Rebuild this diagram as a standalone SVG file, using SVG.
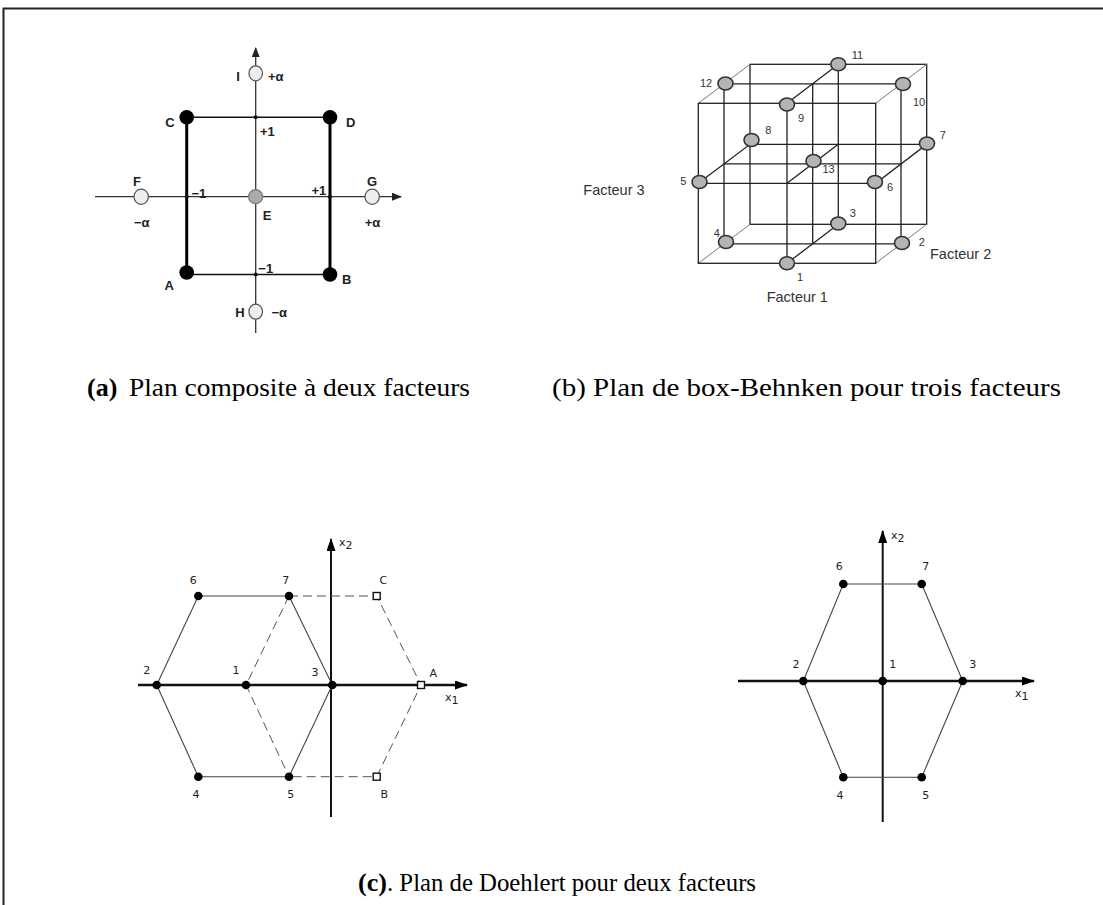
<svg xmlns="http://www.w3.org/2000/svg" width="1103" height="905" viewBox="0 0 1103 905">
<defs>
<style>
.lblA{font-family:"Liberation Sans",Arial,sans-serif;font-weight:bold;font-size:13px;fill:#222}
.lblB{font-family:"Liberation Sans",Arial,sans-serif;font-size:11px;fill:#333}
.fac{font-family:"Liberation Sans",Arial,sans-serif;font-size:14.5px;fill:#333}
.lblC{font-family:"DejaVu Sans","Liberation Sans",sans-serif;font-size:11px;fill:#222}
.cap{font-family:"Liberation Serif","Times New Roman",serif;font-size:26px;fill:#000}
.axA{stroke:#333;stroke-width:1.3;fill:none}
.thinA{stroke:#111;stroke-width:1.5;fill:none}
.thickA{stroke:#000;stroke-width:3;fill:none}
.ptB{fill:#b4b4b4;stroke:#333;stroke-width:1.6}
.edge{stroke:#222;stroke-width:1.3;fill:none}
.depth{stroke:#777;stroke-width:1;fill:none}
.axC{stroke:#111;fill:none}
.sol{stroke:#444;stroke-width:1.1;fill:none}
.dash{stroke:#555;stroke-width:1;stroke-dasharray:9 5;fill:none}
.dot{fill:#000}
.sq{fill:#fff;stroke:#111;stroke-width:1.4}
</style>
<marker id="arrA" markerWidth="10" markerHeight="8" refX="9" refY="4" orient="auto" markerUnits="userSpaceOnUse"><path d="M0,0 L10,4 L0,8 Z" fill="#222"/></marker>
<marker id="arrC" markerWidth="13" markerHeight="9" refX="12" refY="4.5" orient="auto" markerUnits="userSpaceOnUse"><path d="M0,0 L13,4.5 L0,9 Z" fill="#000"/></marker>
</defs>
<rect width="1103" height="905" fill="#fff"/>
<g id="frame">
<path d="M3.5,905 V8.5 H1103" stroke="#222" stroke-width="2" fill="none"/>
</g>

<!-- Panel (a) -->
<g id="connectors-a">
<path class="axA" d="M95,196.7 H401" marker-end="url(#arrA)"/>
<path class="axA" d="M255.7,333 V48" marker-end="url(#arrA)"/>
<path class="thinA" d="M186.7,117.3 H330"/>
<path class="thinA" d="M186.7,274.5 H330"/>
<path class="thickA" d="M186.7,117.3 V274"/>
<path class="thickA" d="M330,117.3 V274.5"/>
</g>
<g id="a-ticks">
<circle cx="255.7" cy="117.3" r="2" fill="#111"/>
<circle cx="186.7" cy="196.7" r="2" fill="#111"/>
<circle cx="330" cy="196.7" r="2" fill="#111"/>
<circle cx="255.7" cy="274.5" r="2" fill="#111"/>
</g>
<g id="node-a-C"><circle cx="186.7" cy="117.3" r="7.3" fill="#000"/><text class="lblA" x="170" y="126.5" text-anchor="middle">C</text></g>
<g id="node-a-D"><circle cx="330" cy="117.3" r="7.3" fill="#000"/><text class="lblA" x="350.7" y="126.5" text-anchor="middle">D</text></g>
<g id="node-a-A"><circle cx="186.7" cy="272.5" r="7.3" fill="#000"/><text class="lblA" x="169.3" y="289.5" text-anchor="middle">A</text></g>
<g id="node-a-B"><circle cx="330" cy="274.5" r="7.3" fill="#000"/><text class="lblA" x="346.7" y="284" text-anchor="middle">B</text></g>
<g id="node-a-I"><ellipse cx="255.7" cy="73.3" rx="6.8" ry="7.5" fill="#eee" stroke="#555" stroke-width="1.2"/><text class="lblA" x="238" y="81" text-anchor="middle">I</text><text class="lblA" x="268" y="81">+α</text></g>
<g id="node-a-H"><ellipse cx="255.7" cy="311.7" rx="6.8" ry="7.5" fill="#eee" stroke="#555" stroke-width="1.2"/><text class="lblA" x="240" y="317" text-anchor="middle">H</text><text class="lblA" x="271.5" y="317">−α</text></g>
<g id="node-a-F"><ellipse cx="141.2" cy="196.7" rx="7.2" ry="7.6" fill="#eee" stroke="#555" stroke-width="1.2"/><text class="lblA" x="137" y="186" text-anchor="middle">F</text><text class="lblA" x="141.7" y="227" text-anchor="middle">−α</text></g>
<g id="node-a-G"><ellipse cx="372.2" cy="196.7" rx="7.2" ry="7.6" fill="#eee" stroke="#555" stroke-width="1.2"/><text class="lblA" x="372" y="186" text-anchor="middle">G</text><text class="lblA" x="372.5" y="227" text-anchor="middle">+α</text></g>
<g id="node-a-E"><circle cx="255.6" cy="196.7" r="7" fill="#aaa" stroke="#777" stroke-width="1.2"/><text class="lblA" x="267" y="219.5" text-anchor="middle">E</text></g>
<g id="a-ticklabels">
<text class="lblA" x="260" y="136" font-weight="normal">+1</text>
<text class="lblA" x="191.5" y="198">−1</text>
<text class="lblA" x="311.5" y="194.5" font-weight="normal">+1</text>
<text class="lblA" x="258.3" y="273">−1</text>
</g>

<!-- Panel (b) -->
<g id="connectors-b">
<rect class="edge" x="750" y="64.3" width="176.7" height="160"/>
<path class="depth" d="M698.3,103.3 L750,64.3 M875.7,103.3 L926.7,64.3 M875.7,263.3 L926.7,224.3 M698.3,263.3 L750,224.3"/>
<path class="edge" d="M724,83.8 H901 V243.8 H724 Z"/>
<path class="edge" d="M787,103.3 L838.3,64.3 V224.3 L787,263.3 Z"/>
<path class="edge" d="M698.3,183.3 L750,144.3 H926.7 L875.7,183.3 Z"/>
<path class="edge" d="M724,163.8 H901 M787,183.3 L838.3,144.3 M812.7,83.8 V243.8"/>
<rect class="edge" x="698.3" y="103.3" width="177.4" height="160"/>
</g>
<g id="node-b-1"><ellipse class="ptB" cx="787" cy="263.3" rx="7.5" ry="6.5"/><text class="lblB" x="800" y="281" text-anchor="middle">1</text></g>
<g id="node-b-2"><ellipse class="ptB" cx="902" cy="243" rx="7.5" ry="6.5"/><text class="lblB" x="921.7" y="246" text-anchor="middle">2</text></g>
<g id="node-b-3"><ellipse class="ptB" cx="838.3" cy="223.5" rx="7.5" ry="6.5"/><text class="lblB" x="852.7" y="217" text-anchor="middle">3</text></g>
<g id="node-b-4"><ellipse class="ptB" cx="726" cy="242" rx="7.5" ry="6.5"/><text class="lblB" x="716.7" y="237" text-anchor="middle">4</text></g>
<g id="node-b-5"><ellipse class="ptB" cx="699.5" cy="182" rx="7.5" ry="6.5"/><text class="lblB" x="683.3" y="185" text-anchor="middle">5</text></g>
<g id="node-b-6"><ellipse class="ptB" cx="875" cy="182" rx="7.5" ry="6.5"/><text class="lblB" x="890" y="191" text-anchor="middle">6</text></g>
<g id="node-b-7"><ellipse class="ptB" cx="927" cy="143.5" rx="7.5" ry="6.5"/><text class="lblB" x="942.7" y="139" text-anchor="middle">7</text></g>
<g id="node-b-8"><ellipse class="ptB" cx="751.5" cy="140" rx="7.5" ry="6.5"/><text class="lblB" x="768.3" y="133.5" text-anchor="middle">8</text></g>
<g id="node-b-9"><ellipse class="ptB" cx="787" cy="104.5" rx="7.5" ry="6.5"/><text class="lblB" x="801" y="122" text-anchor="middle">9</text></g>
<g id="node-b-10"><ellipse class="ptB" cx="903" cy="84" rx="7.5" ry="6.5"/><text class="lblB" x="919" y="106" text-anchor="middle">10</text></g>
<g id="node-b-11"><ellipse class="ptB" cx="838.3" cy="64.3" rx="7.5" ry="6.5"/><text class="lblB" x="857.5" y="59" text-anchor="middle">11</text></g>
<g id="node-b-12"><ellipse class="ptB" cx="725.5" cy="83.5" rx="7.5" ry="6.5"/><text class="lblB" x="706" y="87" text-anchor="middle">12</text></g>
<g id="node-b-13"><ellipse class="ptB" cx="813.5" cy="161" rx="7.5" ry="6.5"/><text class="lblB" x="828.5" y="172.5" text-anchor="middle">13</text></g>
<g id="b-factors">
<text class="fac" x="583.3" y="195">Facteur 3</text>
<text class="fac" x="930" y="259">Facteur 2</text>
<text class="fac" x="766.7" y="301.5">Facteur 1</text>
</g>

<!-- Captions top -->
<g id="caption-a">
<text class="cap" x="87" y="396" font-weight="bold">(a)</text>
<text class="cap" x="129" y="396" textLength="341" lengthAdjust="spacingAndGlyphs">Plan composite à deux facteurs</text>
</g>
<g id="caption-b">
<text class="cap" x="552" y="396" textLength="509" lengthAdjust="spacingAndGlyphs">(b) Plan de box-Behnken pour trois facteurs</text>
</g>

<!-- Panel (c) left -->
<g id="connectors-c-left">
<path class="axC" stroke-width="2.5" d="M138,685 H467" marker-end="url(#arrC)"/>
<path class="axC" stroke-width="2" d="M331,817 V539" marker-end="url(#arrC)"/>
<path class="sol" d="M198.3,596 H289 M198.3,596 L156.7,685 L198.3,776.7 H289 M289,596 L332.3,685 L289,776.7"/>
<path class="dash" d="M289,596 H376.7 L421,685 L376.7,776.7 H289 M289,596 L246,685 L289,776.7"/>
</g>
<g id="node-cl-6"><circle class="dot" cx="198.3" cy="596" r="4.3"/><text class="lblC" x="193.3" y="584" text-anchor="middle">6</text></g>
<g id="node-cl-7"><circle class="dot" cx="289" cy="596" r="4.3"/><text class="lblC" x="285.7" y="584" text-anchor="middle">7</text></g>
<g id="node-cl-C"><rect class="sq" x="373.2" y="592.5" width="7" height="7"/><text class="lblC" x="383.3" y="584" text-anchor="middle">C</text></g>
<g id="node-cl-2"><circle class="dot" cx="156.7" cy="685" r="4.3"/><text class="lblC" x="146.7" y="674" text-anchor="middle">2</text></g>
<g id="node-cl-1"><circle class="dot" cx="246" cy="685" r="4.3"/><text class="lblC" x="236" y="674" text-anchor="middle">1</text></g>
<g id="node-cl-3"><circle class="dot" cx="332.3" cy="685" r="4.3"/><text class="lblC" x="315" y="675.5" text-anchor="middle">3</text></g>
<g id="node-cl-A"><rect class="sq" x="417.5" y="681.5" width="7" height="7"/><text class="lblC" x="433.3" y="677" text-anchor="middle">A</text></g>
<g id="node-cl-4"><circle class="dot" cx="198.3" cy="776.7" r="4.3"/><text class="lblC" x="196" y="797.5" text-anchor="middle">4</text></g>
<g id="node-cl-5"><circle class="dot" cx="289" cy="776.7" r="4.3"/><text class="lblC" x="290.7" y="797.5" text-anchor="middle">5</text></g>
<g id="node-cl-B"><rect class="sq" x="373.2" y="773.2" width="7" height="7"/><text class="lblC" x="384.3" y="797.5" text-anchor="middle">B</text></g>
<g id="cl-axis-labels">
<text class="lblC" x="445" y="701">x<tspan dy="3">1</tspan></text>
<text class="lblC" x="339" y="546">x<tspan dy="3">2</tspan></text>
</g>

<!-- Panel (c) right -->
<g id="connectors-c-right">
<path class="axC" stroke-width="2.5" d="M738,681 H1034" marker-end="url(#arrC)"/>
<path class="axC" stroke-width="2" d="M882.7,822 V531" marker-end="url(#arrC)"/>
<path class="sol" d="M843.3,584 H921.7 L962.7,681 L921.7,777.3 H843.3 L803.3,681 Z"/>
</g>
<g id="node-cr-6"><circle class="dot" cx="843.3" cy="584" r="4.3"/><text class="lblC" x="839.3" y="570" text-anchor="middle">6</text></g>
<g id="node-cr-7"><circle class="dot" cx="921.7" cy="584" r="4.3"/><text class="lblC" x="925.7" y="570" text-anchor="middle">7</text></g>
<g id="node-cr-2"><circle class="dot" cx="803.3" cy="681" r="4.3"/><text class="lblC" x="796" y="667.5" text-anchor="middle">2</text></g>
<g id="node-cr-1"><circle class="dot" cx="882.7" cy="681" r="4.3"/><text class="lblC" x="892.7" y="667.5" text-anchor="middle">1</text></g>
<g id="node-cr-3"><circle class="dot" cx="962.7" cy="681" r="4.3"/><text class="lblC" x="972.7" y="667.5" text-anchor="middle">3</text></g>
<g id="node-cr-4"><circle class="dot" cx="843.3" cy="777.3" r="4.3"/><text class="lblC" x="840" y="799" text-anchor="middle">4</text></g>
<g id="node-cr-5"><circle class="dot" cx="921.7" cy="777.3" r="4.3"/><text class="lblC" x="925.7" y="799" text-anchor="middle">5</text></g>
<g id="cr-axis-labels">
<text class="lblC" x="1015" y="697">x<tspan dy="3">1</tspan></text>
<text class="lblC" x="891" y="539">x<tspan dy="3">2</tspan></text>
</g>

<g id="caption-c">
<text class="cap" x="358" y="891" font-weight="bold" font-size="25">(c)</text>
<text class="cap" x="387" y="891" font-size="25" textLength="369" lengthAdjust="spacingAndGlyphs">. Plan de Doehlert pour deux facteurs</text>
</g>
</svg>
